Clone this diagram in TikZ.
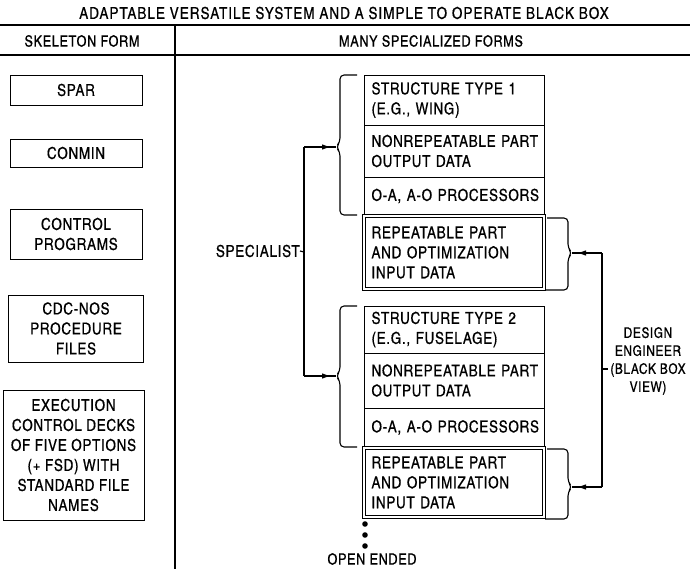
\documentclass[tikz,border=0pt]{standalone}
\usepackage{fontspec}
\setmainfont{texgyreheroscn-regular.otf}[LetterSpace=4, FakeBold=0.5]
\newfontfamily\titlefont{texgyreheroscn-regular.otf}[LetterSpace=6, FakeBold=0.5]
\usetikzlibrary{arrows.meta,decorations.markings}
\begin{document}
\begin{tikzpicture}[x=1pt,y=-1pt,
  every node/.style={font=\fontsize{16.5}{20}\selectfont, inner sep=0pt},
  lbox/.style={draw, line width=0.9pt, align=center},
  rbox/.style={draw, line width=0.9pt, align=left, text width=173pt, inner xsep=3.5pt},
  repbox/.style={rbox, double, double distance=1.6pt, line width=0.8pt},
  rulel/.style={line width=1.1pt},
  conn/.style={line width=1.1pt},
  brk/.style={line width=1.1pt, rounded corners=4pt},
  arrowend/.style={conn, postaction={decorate}, decoration={markings, mark=at position -5pt with {\arrow{Latex[length=9pt,width=5.5pt]}}}},
  ]
\useasboundingbox (0,0) rectangle (690,569);
% header
\node[font=\titlefont\fontsize{16.5}{20}\selectfont] (title) at (344,13) {ADAPTABLE VERSATILE SYSTEM AND A SIMPLE TO OPERATE BLACK BOX};
\draw[rulel] (0,25) -- (690,25);
\node[font=\fontsize{15.5}{20}\selectfont] (skel) at (82,41) {SKELETON FORM};
\node[font=\fontsize{15.5}{20}\selectfont] (many) at (431,41) {MANY SPECIALIZED FORMS};
\draw[rulel] (0,55) -- (690,55);
\draw[rulel] (175,25) -- (175,569);
% left column
\node[lbox, minimum width=132pt, minimum height=30pt] (spar) at (76,90) {SPAR};
\node[lbox, minimum width=132pt, minimum height=28pt] (conmin) at (76,153) {CONMIN};
\node[lbox, minimum width=132pt, minimum height=50pt] (ctrl) at (76,234) {CONTROL\\PROGRAMS};
\node[lbox, minimum width=135pt, minimum height=67pt] (cdc) at (76,328.5) {CDC-NOS\\PROCEDURE\\FILES};
\node[lbox, minimum width=141pt, minimum height=130pt] (exec) at (73.5,455) {EXECUTION\\CONTROL DECKS\\OF FIVE OPTIONS\\(+ FSD) WITH\\STANDARD FILE\\NAMES};
% right stack, group 1
\node[rbox, minimum height=50pt] (st1) at (454,100) {\hspace*{4pt}STRUCTURE TYPE 1\\\hspace*{4pt}(E.G., WING)};
\node[rbox, minimum height=52pt] (nr1) at (454,151) {\hspace*{4pt}NONREPEATABLE PART\\\hspace*{4pt}OUTPUT DATA};
\node[rbox, minimum height=38pt] (oa1) at (454,196) {\hspace*{4pt}O-A, A-O PROCESSORS};
\node[repbox, minimum height=73pt] (rep1) at (454,252.5) {\hspace*{4pt}REPEATABLE PART\\\hspace*{4pt}AND OPTIMIZATION\\\hspace*{4pt}INPUT DATA};
% group 2
\node[rbox, minimum height=47pt] (st2) at (454,329.5) {\hspace*{4pt}STRUCTURE TYPE 2\\\hspace*{4pt}(E.G., FUSELAGE)};
\node[rbox, minimum height=55pt] (nr2) at (454,380.5) {\hspace*{4pt}NONREPEATABLE PART\\\hspace*{4pt}OUTPUT DATA};
\node[rbox, minimum height=39pt] (oa2) at (454,427.5) {\hspace*{4pt}O-A, A-O PROCESSORS};
\node[repbox, minimum height=69pt] (rep2) at (454,482.5) {\hspace*{4pt}REPEATABLE PART\\\hspace*{4pt}AND OPTIMIZATION\\\hspace*{4pt}INPUT DATA};
% left brackets
\draw[brk] (357,75) -- (340,75) -- (340,142) -- (336,147) -- (340,152) -- (340,215) -- (357,215);
\draw[brk] (357,306) -- (340,306) -- (340,371) -- (336,376) -- (340,381) -- (340,447) -- (357,447);
\coordinate (c1) at (336,147);
\coordinate (c2) at (336,376);
% specialist
\node[anchor=east] (spec) at (300,251) {SPECIALIST};
\coordinate (s1) at (304,147);
\coordinate (s2) at (304,376);
\coordinate (sm) at (304,252);
\draw[conn] (s1) -- (s2);
\draw[arrowend] (s1) -- (c1);
\draw[arrowend] (s2) -- (c2);
\draw[conn] (spec.east) -- (sm);
% right brackets
\draw[brk] (547,218) -- (568,218) -- (568,248) -- (572,253) -- (568,258) -- (568,290) -- (545,290);
\draw[brk] (547,449) -- (568,449) -- (568,482) -- (572,487) -- (568,492) -- (568,519) -- (545,519);
\coordinate (e1) at (572,253);
\coordinate (e2) at (572,487);
\coordinate (d1) at (602,253);
\coordinate (d2) at (602,487);
\draw[conn] (d1) -- (d2);
\draw[arrowend] (d1) -- (e1);
\draw[arrowend] (d2) -- (e2);
\node[align=center, font=\fontsize{14.5}{18}\selectfont] (de) at (648,361) {DESIGN\\ENGINEER\\(BLACK BOX\\VIEW)};
\coordinate (dm) at (602,369);
\draw[conn] (dm) -- ++(6,0);
% open ended
\fill (365,524) circle (2.8);
\fill (365,535) circle (2.8);
\fill (365,546) circle (2.8);
\node[font=\fontsize{15.5}{20}\selectfont] (open) at (372,559) {OPEN ENDED};
\end{tikzpicture}
\end{document}
